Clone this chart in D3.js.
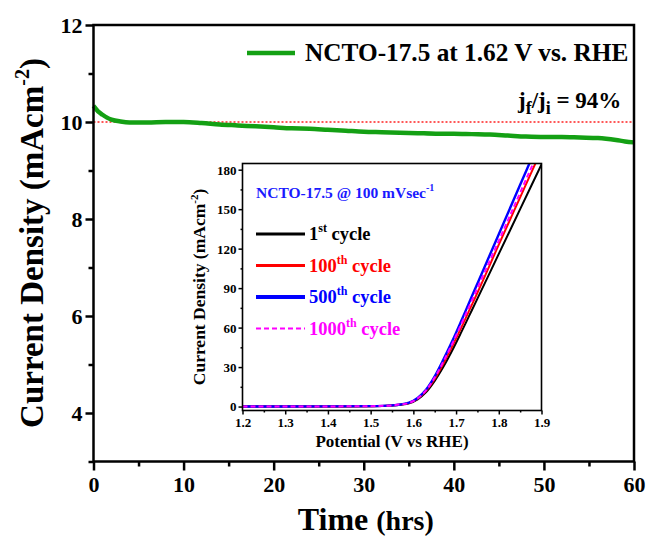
<!DOCTYPE html>
<html>
<head>
<meta charset="utf-8">
<script src="https://cdnjs.cloudflare.com/ajax/libs/d3/7.8.5/d3.min.js"></script>
<style>
  body { margin: 0; background: #fff; }
  svg text { font-family: "Liberation Serif", "Times New Roman", serif; font-weight: bold; }
</style>
</head>
<body>
<div id="chart"></div>
<script>
// courbe de stabilité (chronoampérométrie)
const TIME_H  = [0, 0.5, 1, 1.5, 2, 3, 4, 6, 8, 10, 12, 14, 16, 18, 20, 22, 24, 26, 28, 30,
                 32, 34, 36, 38, 40, 42, 44, 46, 48, 50, 52, 54, 56, 58, 59, 60];
const CURRENT = [10.33, 10.22, 10.15, 10.09, 10.05, 10.01, 9.99, 9.99, 10.0, 10.0, 9.98, 9.95,
                 9.93, 9.91, 9.89, 9.87, 9.86, 9.84, 9.82, 9.80, 9.79, 9.78, 9.77, 9.76, 9.76,
                 9.75, 9.74, 9.72, 9.70, 9.69, 9.69, 9.68, 9.67, 9.63, 9.60, 9.58];
const X_TICKS = [0, 10, 20, 30, 40, 50, 60];
const Y_TICKS = [4, 6, 8, 10, 12];
const J_INIT  = 10;

// encart : polarisation LSV
const POTENTIAL  = [1.2, 1.3, 1.4, 1.5, 1.55, 1.57, 1.59, 1.61, 1.63, 1.65, 1.67, 1.69, 1.71, 1.73, 1.75, 1.8, 1.85, 1.9];
const CYCLE_1    = [0, 0, 0.1, 0.3, 0.8, 1.4, 2.5, 5.5, 11, 19.5, 30, 42, 55, 68.5, 82, 116, 150, 184];
const CYCLE_100  = [0, 0, 0.1, 0.3, 0.8, 1.5, 2.7, 6.0, 12, 21, 32.5, 45, 58.5, 72.5, 86.5, 123, 159, 195];
const CYCLE_500  = [0, 0, 0.1, 0.3, 0.9, 1.6, 2.9, 6.5, 13, 23, 35.5, 49, 63.5, 78.5, 93.5, 131, 168.5, 206];
const CYCLE_1000 = [0, 0, 0.1, 0.3, 0.9, 1.6, 2.8, 6.2, 12.5, 22, 34, 47, 61, 75.5, 90, 126, 162.5, 199];
const INSET_X_TICKS = [1.2, 1.3, 1.4, 1.5, 1.6, 1.7, 1.8, 1.9];
const INSET_Y_TICKS = [0, 30, 60, 90, 120, 150, 180];

const CYCLES = [
  { label: '1',    sup: 'st', color: '#000000', values: CYCLE_1,    width: 2,   dash: null },
  { label: '100',  sup: 'th', color: '#ff0000', values: CYCLE_100,  width: 2,   dash: null },
  { label: '500',  sup: 'th', color: '#0000ff', values: CYCLE_500,  width: 2.4, dash: null },
  { label: '1000', sup: 'th', color: '#ff00ff', values: CYCLE_1000, width: 2,   dash: '5,3' }
];

const W = 646, H = 536;
const svg = d3.select('#chart').append('svg').attr('width', W).attr('height', H);

// ---- graphe principal
const x = d3.scaleLinear().domain([0, 60]).range([93.5, 634]);
const y = d3.scaleLinear().domain([3, 12]).range([461.5, 25]);

const line = d3.line().x((d, i) => x(TIME_H[i])).y(d => y(d)).curve(d3.curveMonotoneX);

svg.append('line')
  .attr('x1', x(0)).attr('x2', x(60)).attr('y1', y(J_INIT)).attr('y2', y(J_INIT))
  .attr('stroke', '#ff2020').attr('stroke-width', 1.3).attr('stroke-dasharray', '2,2');

svg.append('path').datum(CURRENT)
  .attr('d', line).attr('fill', 'none')
  .attr('stroke', '#14a014').attr('stroke-width', 4.5);

const xAxis = svg.append('g').attr('transform', `translate(0,${y(3)})`)
  .call(d3.axisBottom(x).tickValues(X_TICKS).tickSize(9).tickPadding(6).tickFormat(d3.format('d')));
svg.append('g').attr('transform', `translate(0,${y(3)})`)
  .call(d3.axisBottom(x).tickValues(d3.range(5, 60, 10)).tickSize(5).tickFormat(''));

const yAxis = svg.append('g').attr('transform', `translate(${x(0)},0)`)
  .call(d3.axisLeft(y).tickValues(Y_TICKS).tickSize(8).tickPadding(3).tickFormat(d3.format('d')));
svg.append('g').attr('transform', `translate(${x(0)},0)`)
  .call(d3.axisLeft(y).tickValues([3, 5, 7, 9, 11]).tickSize(5).tickFormat(''));

svg.selectAll('.domain').remove();
svg.selectAll('.tick line').attr('stroke', '#000').attr('stroke-width', 2.5);
xAxis.selectAll('text').attr('font-size', 22).attr('fill', '#000');
yAxis.selectAll('text').attr('font-size', 22).attr('fill', '#000').attr('dy', '0.34em');

svg.append('rect')
  .attr('x', x(0)).attr('y', y(12)).attr('width', x(60) - x(0)).attr('height', y(3) - y(12))
  .attr('fill', 'none').attr('stroke', '#000').attr('stroke-width', 2.5);

// titres des axes
const xt = svg.append('text').attr('x', (x(0) + x(60)) / 2 + 2).attr('y', 530)
  .attr('text-anchor', 'middle').attr('font-size', 32);
xt.append('tspan').text('Time ');
xt.append('tspan').attr('font-size', 28).text('(hrs)');

const yt = svg.append('text')
  .attr('transform', `translate(43,243) rotate(-90)`)
  .attr('text-anchor', 'middle').attr('font-size', 33);
yt.append('tspan').text('Current Density (mAcm');
yt.append('tspan').attr('font-size', 20).attr('dy', -14).text('-2');
yt.append('tspan').attr('dy', 14).text(')');

// légende principale
svg.append('line').attr('x1', 247).attr('x2', 295).attr('y1', 53).attr('y2', 53)
  .attr('stroke', '#14a014').attr('stroke-width', 4.5);
svg.append('text').attr('x', 305).attr('y', 61).attr('font-size', 25.3)
  .text('NCTO-17.5 at 1.62 V vs. RHE');

const ratio = svg.append('text').attr('x', 518).attr('y', 108).attr('font-size', 23);
ratio.append('tspan').text('j');
ratio.append('tspan').attr('font-size', 18).attr('dy', 6).text('f');
ratio.append('tspan').attr('dy', -6).text('/j');
ratio.append('tspan').attr('font-size', 18).attr('dy', 6).text('i');
ratio.append('tspan').attr('dy', -6).text(' = 94%');

// ---- encart
const ix = d3.scaleLinear().domain([1.2, 1.9]).range([242.5, 541.5]);
const iy = d3.scaleLinear().domain([-3, 184.7]).range([410.5, 163.5]);

const inset = svg.append('g');
inset.append('rect')
  .attr('x', ix(1.2)).attr('y', iy(184.7)).attr('width', ix(1.9) - ix(1.2)).attr('height', iy(-3) - iy(184.7))
  .attr('fill', '#fff');

inset.append('clipPath').attr('id', 'inset-clip').append('rect')
  .attr('x', ix(1.2)).attr('y', iy(184.7)).attr('width', ix(1.9) - ix(1.2)).attr('height', iy(-3) - iy(184.7));

const iline = d3.line().x((d, i) => ix(POTENTIAL[i])).y(d => iy(d)).curve(d3.curveMonotoneX);

inset.append('g').attr('clip-path', 'url(#inset-clip)')
  .selectAll('path')
  .data(CYCLES)
  .join('path')
  .attr('d', c => iline(c.values))
  .attr('fill', 'none')
  .attr('stroke', c => c.color)
  .attr('stroke-width', c => c.width)
  .attr('stroke-dasharray', c => c.dash);

const ixAxis = inset.append('g').attr('transform', `translate(0,${iy(-3)})`)
  .call(d3.axisBottom(ix).tickValues(INSET_X_TICKS).tickSize(4).tickPadding(3).tickFormat(d3.format('.1f')));
inset.append('g').attr('transform', `translate(0,${iy(-3)})`)
  .call(d3.axisBottom(ix).tickValues(d3.range(1.25, 1.9, 0.1)).tickSize(2).tickFormat(''));
const iyAxis = inset.append('g').attr('transform', `translate(${ix(1.2)},0)`)
  .call(d3.axisLeft(iy).tickValues(INSET_Y_TICKS).tickSize(4).tickPadding(2).tickFormat(d3.format('d')));
inset.append('g').attr('transform', `translate(${ix(1.2)},0)`)
  .call(d3.axisLeft(iy).tickValues(d3.range(15, 180, 30)).tickSize(2).tickFormat(''));

inset.selectAll('.domain').remove();
inset.selectAll('.tick line').attr('stroke', '#000').attr('stroke-width', 1.5);
ixAxis.selectAll('text').attr('font-size', 13).attr('fill', '#000');
iyAxis.selectAll('text').attr('font-size', 13).attr('fill', '#000').attr('dy', '0.34em');

inset.append('rect')
  .attr('x', ix(1.2)).attr('y', iy(184.7)).attr('width', ix(1.9) - ix(1.2)).attr('height', iy(-3) - iy(184.7))
  .attr('fill', 'none').attr('stroke', '#000').attr('stroke-width', 1.6);

inset.append('text').attr('x', (ix(1.2) + ix(1.9)) / 2).attr('y', 447)
  .attr('text-anchor', 'middle').attr('font-size', 17).text('Potential (V vs RHE)');

const iyt = inset.append('text')
  .attr('transform', `translate(205,${(iy(-3) + iy(184.7)) / 2}) rotate(-90)`)
  .attr('text-anchor', 'middle').attr('font-size', 17.5);
iyt.append('tspan').text('Current Density (mAcm');
iyt.append('tspan').attr('font-size', 11).attr('dy', -7).text('-2');
iyt.append('tspan').attr('dy', 7).text(')');

const note = inset.append('text').attr('x', 256).attr('y', 198).attr('font-size', 15.5).attr('fill', '#1a1aff');
note.append('tspan').text('NCTO-17.5 @ 100 mVsec');
note.append('tspan').attr('font-size', 10).attr('dy', -7).text('-1');

// légende de l'encart
const leg = inset.selectAll('.leg')
  .data(CYCLES)
  .join('g')
  .attr('class', 'leg')
  .attr('transform', (c, i) => `translate(256,${234 + i * 31.5})`);

leg.append('line')
  .attr('x1', 0).attr('x2', 49)
  .attr('stroke', c => c.color)
  .attr('stroke-width', c => c.dash ? 2.2 : (c.width > 2 ? 4 : 2.8))
  .attr('stroke-dasharray', c => c.dash);

const lt = leg.append('text').attr('x', 53).attr('y', 6).attr('font-size', 18.5)
  .attr('fill', c => c.color);
lt.append('tspan').text(c => c.label);
lt.append('tspan').attr('font-size', 12).attr('dy', -8).text(c => c.sup);
lt.append('tspan').attr('dy', 8).text(' cycle');
</script>
</body>
</html>
